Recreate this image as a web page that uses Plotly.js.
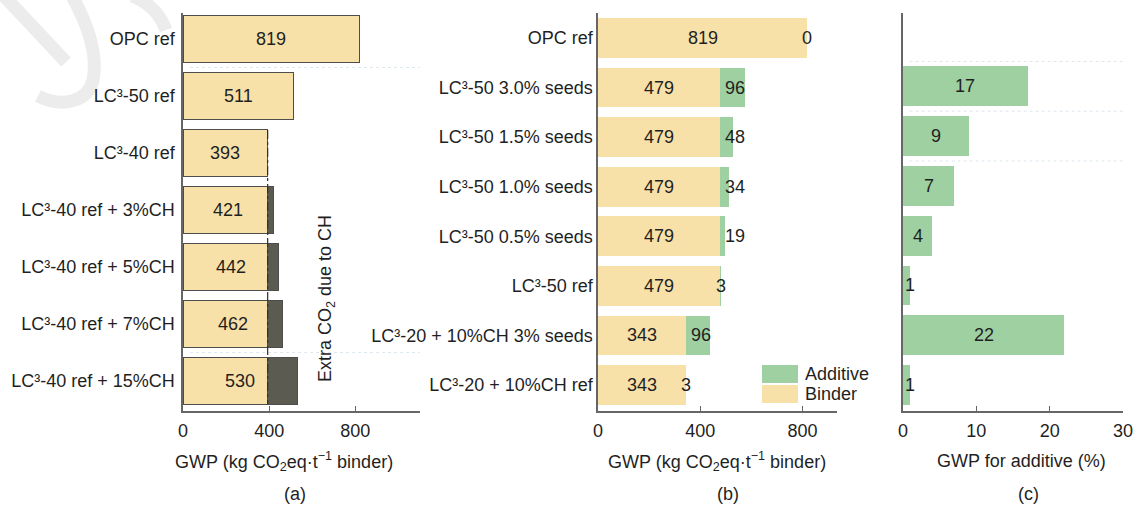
<!DOCTYPE html>
<html>
<head>
<meta charset="utf-8">
<script src="https://cdn.plot.ly/plotly-3.0.1.min.js"></script>
<style>
  html, body { margin: 0; padding: 0; background: #ffffff; }
  #chart { width: 1141px; height: 506px; }
</style>
</head>
<body>
<div id="chart"></div>
<script>
// ---- Panel (a): total GWP of binders, with the CH surcharge over LC3-40 ref ----
const catsA = ['OPC ref', 'LC³-50 ref', 'LC³-40 ref', 'LC³-40 ref + 3%CH',
               'LC³-40 ref + 5%CH', 'LC³-40 ref + 7%CH', 'LC³-40 ref + 15%CH'];
const totalA = [819, 511, 393, 421, 442, 462, 530];
const hasCH = [false, false, false, true, true, true, true];

// ---- Panel (b): binder + additive GWP ----
const catsB = ['OPC ref', 'LC³-50 3.0% seeds', 'LC³-50 1.5% seeds', 'LC³-50 1.0% seeds',
               'LC³-50 0.5% seeds', 'LC³-50 ref', 'LC³-20 + 10%CH 3% seeds', 'LC³-20 + 10%CH ref'];
const binderB = [819, 479, 479, 479, 479, 479, 343, 343];
const additiveB = [0, 96, 48, 34, 19, 3, 96, 3];

// ---- Panel (c): share of GWP coming from the additive (%) ----
const shareC = [null, 17, 9, 7, 4, 1, 22, 1];

const tickA = [0, 400, 800];
const tickB = [0, 400, 800];
const tickC = [0, 10, 20, 30];

// ---- styling ----
const FONT = 'Liberation Sans, Arial, Helvetica, sans-serif';
const TXT = '#1f1f1f';
const BINDER = '#f8e1a8';
const ADDITIVE = '#9ed0a1';
const CH_DARK = '#5c5b51';
const OUTLINE = '#4d4d4d';
const AXIS = '#666666';
const FS = 18;

const W = 1141, H = 506;
const px = v => v / W;           // horizontal pixel -> paper
const py = v => 1 - v / H;       // vertical pixel (from top) -> paper

// convert an SVG-like path given in page pixels into paper coordinates
const paperPath = d => d.replace(/(-?\d+(?:\.\d+)?)\s+(-?\d+(?:\.\d+)?)/g,
  (m, a, b) => px(+a).toFixed(5) + ',' + py(+b).toFixed(5));

const refCH = totalA[catsA.indexOf('LC³-40 ref')];
const binderA = totalA.map((t, i) => hasCH[i] ? refCH : t);
const extraA = totalA.map((t, i) => hasCH[i] ? t - refCH : 0);

const traces = [
  {
    type: 'bar', orientation: 'h', x: binderA, y: catsA, xaxis: 'x', yaxis: 'y',
    width: 0.81, marker: { color: BINDER, line: { color: OUTLINE, width: 1 } },
    hoverinfo: 'x+y', showlegend: false
  },
  {
    type: 'bar', orientation: 'h', x: extraA, y: catsA, xaxis: 'x', yaxis: 'y',
    width: 0.81, marker: { color: CH_DARK, line: { color: OUTLINE, width: 1 } },
    hoverinfo: 'x+y', showlegend: false
  },
  {
    type: 'bar', orientation: 'h', x: binderB, y: catsB, xaxis: 'x2', yaxis: 'y2',
    width: 0.8, marker: { color: BINDER }, name: 'Binder', showlegend: false
  },
  {
    type: 'bar', orientation: 'h', x: additiveB, y: catsB, xaxis: 'x2', yaxis: 'y2',
    width: 0.8, marker: { color: ADDITIVE }, name: 'Additive', showlegend: false
  },
  {
    type: 'bar', orientation: 'h', x: shareC, y: catsB, xaxis: 'x3', yaxis: 'y3',
    width: 0.8, marker: { color: ADDITIVE }, showlegend: false
  }
];

const annotations = [];
const lbl = (text, xref, yref, x, y, extra) => Object.assign({
  text: String(text), xref, yref, x, y, showarrow: false,
  font: { family: FONT, size: FS, color: TXT }, xanchor: 'center', yanchor: 'middle'
}, extra || {});

// value labels (a): centred on each full bar
totalA.forEach((t, i) => annotations.push(lbl(t, 'x', 'y', t / 2, catsA[i])));

// value labels (b)
binderB.forEach((b, i) => {
  annotations.push(lbl(b, 'x2', 'y2', b / 2, catsB[i]));
  const a = additiveB[i];
  if (a < 10) {
    annotations.push(lbl(a, 'x2', 'y2', b + a, catsB[i]));
  } else {
    annotations.push(lbl(a, 'x2', 'y2', b, catsB[i], { xanchor: 'left', xshift: 3 }));
  }
});

// value labels (c)
shareC.forEach((s, i) => {
  if (s === null) return;
  annotations.push(lbl(s, 'x3', 'y3', s < 2 ? s : s / 2, catsB[i]));
});

// axis titles and panel letters
const gwpTitle = 'GWP (kg CO<sub>2</sub>eq·t<sup>−1</sup> binder)';
annotations.push(lbl(gwpTitle, 'paper', 'paper', px(284), py(461)));
annotations.push(lbl(gwpTitle, 'paper', 'paper', px(717), py(461)));
annotations.push(lbl('GWP for additive (%)', 'paper', 'paper', px(1021), py(461)));
annotations.push(lbl('(a)', 'paper', 'paper', px(295), py(494)));
annotations.push(lbl('(b)', 'paper', 'paper', px(728), py(494)));
annotations.push(lbl('(c)', 'paper', 'paper', px(1028), py(494)));

// side note in (a)
annotations.push(lbl('Extra CO<sub>2</sub> due to CH', 'paper', 'paper', px(326), py(299),
  { textangle: -90 }));

// legend of (b)
annotations.push(lbl('Additive', 'paper', 'paper', px(803), py(374), { xanchor: 'left' }));
annotations.push(lbl('Binder', 'paper', 'paper', px(803), py(394), { xanchor: 'left' }));

const WM = { color: '#ececec', width: 13 };

const shapes = [
  // faint watermark strokes in the top-left corner
  { type: 'path', xref: 'paper', yref: 'paper', layer: 'below', line: WM,
    path: paperPath('M 4 -4 L 66 62') },
  { type: 'path', xref: 'paper', yref: 'paper', layer: 'below', line: WM,
    path: paperPath('M 72 -4 C 88 25 98 55 93 80 C 88 102 62 108 38 96') },
  { type: 'path', xref: 'paper', yref: 'paper', layer: 'below', line: WM,
    path: paperPath('M 132 -4 C 148 2 160 14 166 30') },
  // reference level of LC3-40 ref carried down through the CH rows
  {
    type: 'line', xref: 'x', yref: 'y', x0: refCH, x1: refCH,
    y0: catsA.indexOf('LC³-40 ref') - 0.405, y1: catsA.length - 1 + 0.405,
    line: { color: '#2e2e2e', width: 1.2, dash: 'dashdot' }, layer: 'above'
  },
  // legend swatches of (b)
  { type: 'rect', xref: 'paper', yref: 'paper', x0: px(762), x1: px(798), y0: py(383), y1: py(365),
    fillcolor: ADDITIVE, line: { width: 0 } },
  { type: 'rect', xref: 'paper', yref: 'paper', x0: px(762), x1: px(798), y0: py(403), y1: py(385),
    fillcolor: BINDER, line: { width: 0 } }
];

// faint dotted row separators
[[ 'x', 'y', 0.5 ], [ 'x', 'y', 5.5 ], [ 'x3', 'y3', 0.5 ], [ 'x3', 'y3', 1.5 ], [ 'x3', 'y3', 2.5 ]]
  .forEach(([xr, yr, yv]) => shapes.push({
    type: 'line', xref: xr + ' domain', yref: yr, x0: 0.03, x1: 1, y0: yv, y1: yv,
    line: { color: '#dde7ee', width: 1, dash: 'dot' }, layer: 'below'
  }));

const xCommon = {
  ticks: 'inside', ticklen: 5, tickwidth: 1.2, tickcolor: AXIS,
  showline: true, linecolor: AXIS, linewidth: 1.6,
  showgrid: false, zeroline: false, fixedrange: true,
  tickfont: { family: FONT, size: FS, color: TXT }, ticklabelstandoff: 3
};
const yCommon = {
  type: 'category', showline: true, linecolor: AXIS, linewidth: 1.6,
  showgrid: false, zeroline: false, ticks: '', fixedrange: true,
  tickfont: { family: FONT, size: FS, color: TXT }
};

const yTop = py(13), yBot = py(411);

const layout = {
  width: W, height: H,
  margin: { l: 0, r: 0, t: 0, b: 0 },
  paper_bgcolor: '#ffffff', plot_bgcolor: 'rgba(0,0,0,0)',
  font: { family: FONT, size: FS, color: TXT },
  barmode: 'stack', bargap: 0.2,
  showlegend: false,
  xaxis: Object.assign({}, xCommon, { domain: [px(183), px(420)], range: [0, 1100], tickvals: tickA, anchor: 'y' }),
  yaxis: Object.assign({}, yCommon, { domain: [yBot, yTop], range: [6.526, -0.456], anchor: 'x', ticklabelstandoff: 3 }),
  xaxis2: Object.assign({}, xCommon, { domain: [px(598), px(837)], range: [0, 935], tickvals: tickB, anchor: 'y2' }),
  yaxis2: Object.assign({}, yCommon, { domain: [yBot, yTop], range: [7.525, -0.503], anchor: 'x2', ticklabelstandoff: 0 }),
  xaxis3: Object.assign({}, xCommon, { domain: [px(903), px(1123)], range: [0, 30], tickvals: tickC, anchor: 'y3' }),
  yaxis3: Object.assign({}, yCommon, { domain: [yBot, yTop], range: [7.523, -0.473], anchor: 'x3', showticklabels: false }),
  annotations, shapes
};

Plotly.newPlot('chart', traces, layout, { displayModeBar: false, staticPlot: true });
</script>
</body>
</html>
